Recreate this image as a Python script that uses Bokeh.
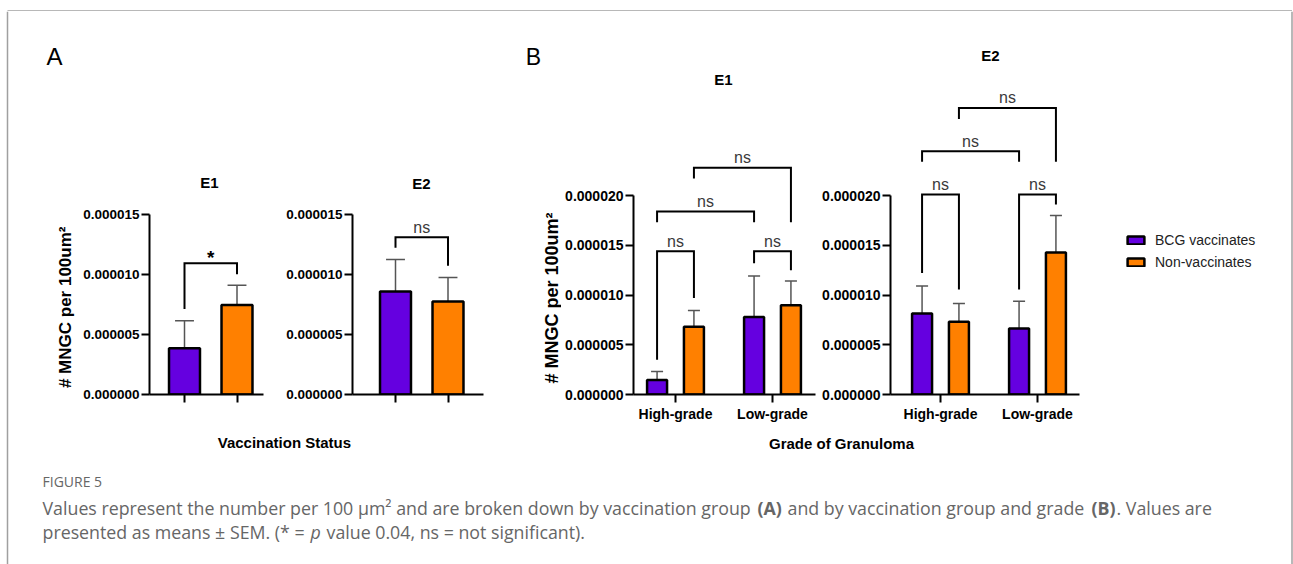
import math
from bokeh.plotting import figure
from bokeh.layouts import row, column
from bokeh.models import (Range1d, FixedTicker, NumeralTickFormatter, ColumnDataSource,
                          Legend, LegendItem)
from bokeh.core.properties import value
from bokeh.embed import file_html
from bokeh.resources import INLINE

# ---------------- data ----------------
series = ["BCG vaccinates", "Non-vaccinates"]
series_colors = ["#6500e0", "#ff8000"]
grades = ["High-grade", "Low-grade"]
y_ticks_a = [0, 5e-6, 10e-6, 15e-6]
y_ticks_b = [0, 5e-6, 10e-6, 15e-6, 20e-6]
y_title = "# MNGC per 100um\u00b2"

# Panel A (by vaccination status): mean and SEM, [BCG, Non]
a_e1_mean = [3.85e-6, 7.43e-6]
a_e1_sem = [2.29e-6, 1.65e-6]
a_e2_mean = [8.57e-6, 7.73e-6]
a_e2_sem = [2.66e-6, 2.00e-6]

# Panel B (by grade): [High-grade, Low-grade]
b_e1_bcg_mean = [1.46e-6, 7.78e-6]
b_e1_bcg_sem = [0.84e-6, 4.12e-6]
b_e1_non_mean = [6.81e-6, 8.98e-6]
b_e1_non_sem = [1.63e-6, 2.42e-6]
b_e2_bcg_mean = [8.15e-6, 6.64e-6]
b_e2_bcg_sem = [2.75e-6, 2.74e-6]
b_e2_non_mean = [7.32e-6, 14.28e-6]
b_e2_non_sem = [1.83e-6, 3.72e-6]

# significance brackets: legs as (group, series), bar height, leg ends, label
a_e1_br_from = [(0, 0)]
a_e1_br_to = [(0, 1)]
a_e1_br_top = [10.9e-6]
a_e1_br_leg1 = [7.1e-6]
a_e1_br_leg2 = [10.0e-6]
a_e1_br_text = ["*"]

a_e2_br_from = [(0, 0)]
a_e2_br_to = [(0, 1)]
a_e2_br_top = [13.06e-6]
a_e2_br_leg1 = [12.2e-6]
a_e2_br_leg2 = [10.7e-6]
a_e2_br_text = ["ns"]

b_br_from = [(0, 0), (1, 0), (0, 0), (0, 1)]
b_br_to = [(0, 1), (1, 1), (1, 0), (1, 1)]
b_e1_br_top = [14.4e-6, 14.4e-6, 18.4e-6, 22.8e-6]
b_e1_br_leg1 = [3.5e-6, 13.2e-6, 17.3e-6, 21.7e-6]
b_e1_br_leg2 = [9.7e-6, 12.5e-6, 17.3e-6, 17.3e-6]
b_e1_br_text = ["ns", "ns", "ns", "ns"]
b_e2_br_top = [20.1e-6, 20.1e-6, 24.45e-6, 28.8e-6]
b_e2_br_leg1 = [12.2e-6, 10.55e-6, 23.4e-6, 27.7e-6]
b_e2_br_leg2 = [10.55e-6, 19.1e-6, 23.4e-6, 23.4e-6]
b_e2_br_text = ["ns", "ns", "ns", "ns"]

# ---------------- layout constants ----------------
TOP = 11
ROW_H = 417
FONT = "Liberation Sans"
B_OFF = 0.19


def blank(w, h, x0, x1, y0, y1):
    f = figure(width=w, height=h, x_range=Range1d(x0, x1), y_range=Range1d(y0, y1),
               min_border=0, x_axis_type=None, y_axis_type=None, output_backend="svg",
               toolbar_location=None, title=None)
    f.outline_line_color = None
    f.xgrid.visible = False
    f.ygrid.visible = False
    return f


class Panel:
    def __init__(self, x0, w, fl, fr, fb, ppx, x1px, ppy):
        self.fl, self.fb, self.ppx, self.ppy = fl, fb, ppx, ppy
        self.xs = 1 - (x1px - fl) / ppx
        self.xe = self.xs + (fr - fl) / ppx
        ye = (fb - TOP) / ppy * 1e-6
        p = figure(width=w, height=ROW_H, x_range=Range1d(self.xs, self.xe),
                   y_range=Range1d(0, ye), min_border_left=fl - x0,
                   min_border_right=x0 + w - fr, min_border_top=0,
                   min_border_bottom=TOP + ROW_H - fb, output_backend="svg",
                   toolbar_location=None, title=None)
        p.outline_line_color = None
        p.xgrid.visible = False
        p.ygrid.visible = False
        self.p = p

    def dx(self, X):
        return self.xs + (X - self.fl) / self.ppx

    def dy(self, Y):
        return (self.fb - Y) / self.ppy * 1e-6


def style_axes(pn, yticks, xlabels, tick_size):
    p = pn.p
    for ax in (p.xaxis[0], p.yaxis[0]):
        ax.axis_line_color = "black"
        ax.axis_line_width = 2
        ax.major_tick_line_color = "black"
        ax.major_tick_line_width = 2
        ax.major_tick_out = 8
        ax.major_tick_in = 0
        ax.minor_tick_line_color = None
        ax.major_label_text_font = FONT
        ax.major_label_text_font_style = "bold"
        ax.major_label_text_color = "black"
        ax.major_label_text_font_size = tick_size
    p.yaxis[0].ticker = FixedTicker(ticks=yticks)
    p.yaxis[0].bounds = (0, yticks[-1])
    p.yaxis[0].formatter = NumeralTickFormatter(format="0.000000")
    p.yaxis[0].major_label_standoff = 2
    p.xaxis[0].ticker = FixedTicker(ticks=[1, 2])
    if xlabels is None:
        p.xaxis[0].major_label_overrides = {1: "", 2: ""}
    else:
        p.xaxis[0].major_label_overrides = {1: xlabels[0], 2: xlabels[1]}
        p.xaxis[0].major_label_standoff = 3


def draw_bars(p, xs, means, sems, color, width, capw):
    tops = [m + s for m, s in zip(means, sems)]
    src = ColumnDataSource(dict(x=xs, m=means, t=tops,
                                cl=[x - capw / 2 for x in xs],
                                cr=[x + capw / 2 for x in xs]))
    p.segment(x0="x", y0="m", x1="x", y1="t", source=src, line_color="#555555", line_width=1.5)
    p.segment(x0="cl", y0="t", x1="cr", y1="t", source=src, line_color="#555555", line_width=1.5)
    p.vbar(x="x", top="m", bottom=0, width=width, source=src, fill_color=color,
           line_color="black", line_width=2.5)


def draw_brackets(p, xpos, frm, to, tops, l1, l2, texts, txt_size, txt_style, yoff, color):
    xs, ys, mx = [], [], []
    for a, b, t, e1, e2 in zip(frm, to, tops, l1, l2):
        xa, xb = xpos(*a), xpos(*b)
        xs.append([xa, xa, xb, xb])
        ys.append([e1, t, t, e2])
        mx.append((xa + xb) / 2)
    p.multi_line(xs=xs, ys=ys, line_color="black", line_width=2, line_join="miter")
    p.text(x=mx, y=tops, text=texts, text_font=value(FONT), text_font_size=value(txt_size),
           text_font_style=txt_style, text_color=color, text_align="center",
           text_baseline="alphabetic", y_offset=yoff)


def title(pn, txt, X, Y):
    pn.p.text(x=[pn.dx(X)], y=[pn.dy(Y)], text=[txt], text_font=value(FONT),
              text_font_size=value("15px"), text_font_style="bold", text_color="black",
              text_align="center", text_baseline="middle")


def side_labels(f, letter, lx, ly, lsize, tx, ty_start, tsize):
    f.text(x=[lx], y=[ly], text=[letter], text_font=value(FONT), text_font_size=value(lsize),
           text_color="black", text_align="center", text_baseline="middle")
    f.text(x=[tx], y=[ty_start], text=[y_title], text_font=value(FONT),
           text_font_size=value(tsize), text_font_style="bold", text_color="black",
           text_align="left", text_baseline="middle", angle=math.pi / 2)


def a_x(g, s):
    return s + 1


def b_x(g, s):
    return g + 1 + (s - 0.5) * 2 * B_OFF


# ---------------- panel A ----------------
LA = blank(67, ROW_H, 9, 76, TOP + ROW_H, TOP)
side_labels(LA, "A", 54, 60, "24px", 65, 421, "17px")
A1 = Panel(76, 202, 149, 263, 400, 52.5, 184, 12.22)
A2 = Panel(278, 222, 352, 483, 400, 52.5, 395, 12.22)
style_axes(A1, y_ticks_a, None, "13.5px")
style_axes(A2, y_ticks_a, None, "13.5px")
for pn, mean, sem in ((A1, a_e1_mean, a_e1_sem), (A2, a_e2_mean, a_e2_sem)):
    for s in range(2):
        draw_bars(pn.p, [a_x(0, s)], [mean[s]], [sem[s]], series_colors[s], 0.59, 0.36)
draw_brackets(A1.p, a_x, a_e1_br_from, a_e1_br_to, a_e1_br_top, a_e1_br_leg1, a_e1_br_leg2,
              a_e1_br_text, "19px", "bold", -6, "black")
draw_brackets(A2.p, a_x, a_e2_br_from, a_e2_br_to, a_e2_br_top, a_e2_br_leg1, a_e2_br_leg2,
              a_e2_br_text, "16px", "normal", -10, "#3a3a3a")
title(A1, "E1", 209, 185)
title(A2, "E2", 421, 186)

# ---------------- panel B ----------------
LB = blank(61, ROW_H, 500, 561, TOP + ROW_H, TOP)
side_labels(LB, "B", 533, 61, "23px", 551, 416, "18px")
B1 = Panel(561, 257, 633, 815, 394, 97, 675, 9.95)
B2 = Panel(818, 277, 890, 1079, 394, 97, 940, 9.95)
style_axes(B1, y_ticks_b, grades, "14px")
style_axes(B2, y_ticks_b, grades, "14px")
for pn, means, sems in ((B1, (b_e1_bcg_mean, b_e1_non_mean), (b_e1_bcg_sem, b_e1_non_sem)),
                        (B2, (b_e2_bcg_mean, b_e2_non_mean), (b_e2_bcg_sem, b_e2_non_sem))):
    for s in range(2):
        draw_bars(pn.p, [b_x(g, s) for g in range(2)], means[s], sems[s], series_colors[s],
                  0.206, 0.124)
draw_brackets(B1.p, b_x, b_br_from, b_br_to, b_e1_br_top, b_e1_br_leg1, b_e1_br_leg2,
              b_e1_br_text, "16px", "normal", -10, "#3a3a3a")
draw_brackets(B2.p, b_x, b_br_from, b_br_to, b_e2_br_top, b_e2_br_leg1, b_e2_br_leg2,
              b_e2_br_text, "16px", "normal", -10, "#3a3a3a")
title(B1, "E1", 723, 79)
title(B2, "E2", 990, 55)

# ---------------- legend ----------------
leg = blank(187, ROW_H, 0, 1, 0, 1)
items = []
for s in range(2):
    r = leg.vbar(x=[float("nan")], top=[float("nan")], width=0.1,
                 fill_color=series_colors[s], line_color="black", line_width=2.5)
    items.append(LegendItem(label=series[s], renderers=[r]))
legend = Legend(items=items, location=(30, 124), glyph_width=21, glyph_height=10,
                label_standoff=9, spacing=6, padding=0, margin=0,
                label_text_font=FONT, label_text_font_size="14px",
                label_text_color="#222222", border_line_alpha=0, background_fill_alpha=0)
leg.add_layout(legend)

# ---------------- bottom: axis titles and caption ----------------
bot = blank(1273, 136, 9, 1282, 564, 428)
bot.text(x=[286, 841], y=[442, 443], text=["Vaccination  Status", "Grade of Granuloma"],
         text_font=value(FONT), text_font_size=value("15px"), text_font_style="bold",
         text_color="black", text_align="center", text_baseline="middle")

CAP_FONT = "Open Sans"
CAP_COLOR = "#666666"
CAP_SIZE = "17.8px"
bot.text(x=[42], y=[481], text=["FIGURE 5"], text_font=value(CAP_FONT),
         text_font_size=value("14px"), text_color=CAP_COLOR, text_baseline="middle")
cap_pieces = [
    ("Values represent the number per 100 \u03bcm\u00b2 and are broken down by vaccination group", "normal", 42, 507),
    ("(A)", "bold", 757, 507),
    ("and by vaccination group and grade", "normal", 787, 507),
    ("(B)", "bold", 1091, 507),
    (". Values are", "normal", 1116, 507),
    ("presented as means \u00b1 SEM. (* =", "normal", 42, 531),
    ("p", "italic", 310, 531),
    ("value 0.04, ns = not significant).", "normal", 326, 531),
]
for txt, sty, x, y in cap_pieces:
    bot.text(x=[x], y=[y], text=[txt], text_font=value(CAP_FONT), text_font_size=value(CAP_SIZE),
             text_font_style=sty, text_color=CAP_COLOR, text_baseline="middle")

# ---------------- frame strips ----------------
LINE_C = "#a0a0a0"
top_strip = blank(1293, 11, 0, 1293, 11, 0)
top_strip.segment(x0=[7], y0=[9.5], x1=[1291.5], y1=[9.5], line_color=LINE_C, line_width=1.5)
top_strip.segment(x0=[7, 1291.5], y0=[9.5, 9.5], x1=[7, 1291.5], y1=[11, 11],
                  line_color=LINE_C, line_width=1.5)
left_strip = blank(9, 553, 0, 9, 553, 0)
left_strip.segment(x0=[7], y0=[0], x1=[7], y1=[553], line_color=LINE_C, line_width=1.5)
right_strip = blank(11, 553, 1282, 1293, 553, 0)
right_strip.segment(x0=[1291.5], y0=[0], x1=[1291.5], y1=[553], line_color=LINE_C, line_width=1.5)

main = column(row(LA, A1.p, A2.p, LB, B1.p, B2.p, leg), bot)
layout = column(top_strip, row(left_strip, main, right_strip))

open("out.html", "w").write(file_html(layout, INLINE))
